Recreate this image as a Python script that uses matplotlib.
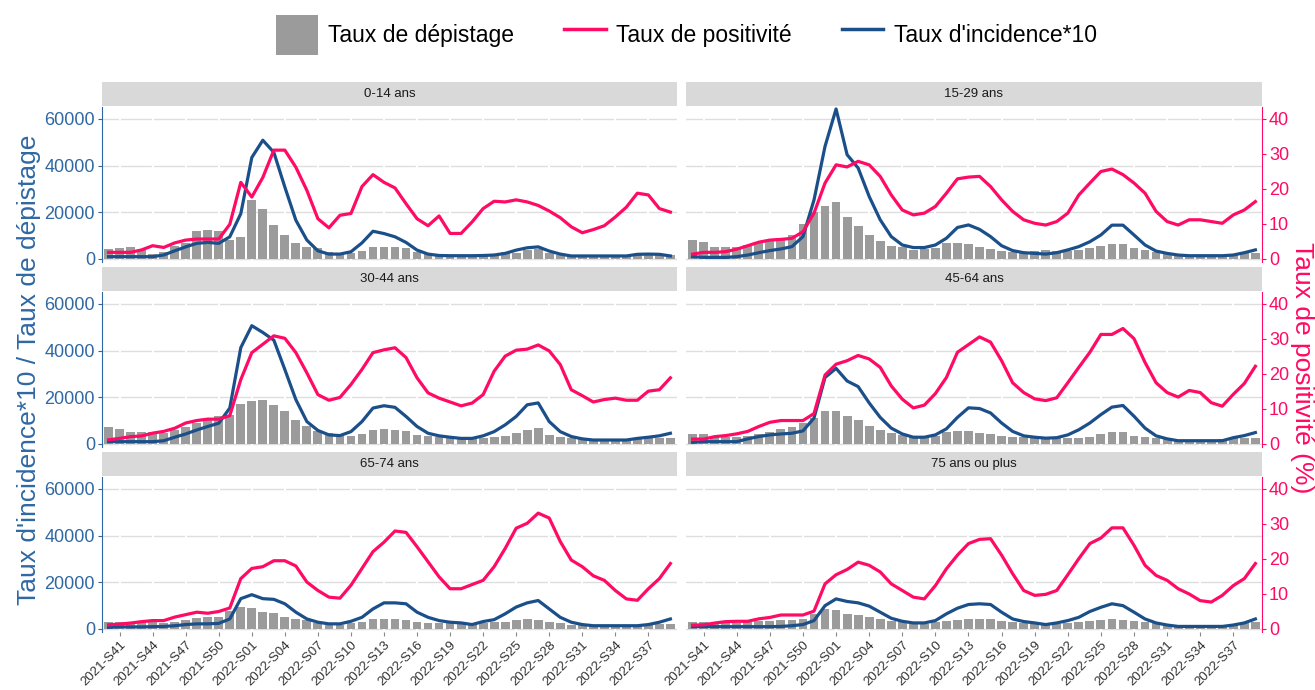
import matplotlib
matplotlib.use('Agg')
import matplotlib.pyplot as plt
from matplotlib.patches import Patch
from matplotlib.lines import Line2D
import numpy as np

plt.rcParams['font.family'] = ['Liberation Sans', 'DejaVu Sans']

# semaines 2021-S40 .. 2022-S39
weeks = ['2021-S%02d' % w for w in range(40, 53)] + ['2022-S%02d' % w for w in range(1, 40)]
tick_idx = list(range(1, len(weeks), 3))

age_groups = ['0-14 ans', '15-29 ans', '30-44 ans', '45-64 ans', '65-74 ans', '75 ans ou plus']

# taux de depistage
dep_0_14 = [4100, 4500, 5000, 3800, 2100, 3100, 5500, 6700, 11900, 12500, 12000, 8000, 9500, 25400, 21600, 14500,
            10100, 7000, 5200, 4500, 3100, 2400, 2400, 3500, 5200, 5200, 5200, 4500, 3100, 2100, 1700, 1700, 1400,
            1400, 1700, 2100, 3100, 2700, 3800, 4100, 2400, 1700, 1400, 1300, 1300, 1300, 1400, 1400, 1700, 2100,
            2100, 1700]
dep_15_29 = [8200, 7200, 5300, 5300, 5300, 6000, 6700, 7900, 8900, 10300, 14900, 20300, 22500, 24600, 17900, 14300,
             10300, 7900, 5700, 5300, 3900, 4200, 4600, 6700, 6700, 6400, 5300, 4300, 3600, 3200, 3200, 3600, 3900,
             3600, 3600, 3900, 4600, 5700, 6300, 6300, 4900, 3900, 3200, 2400, 1700, 1400, 1400, 1400, 1700, 2100,
             2400, 2400]
dep_30_44 = [7100, 6500, 5000, 5000, 5000, 4600, 5800, 7200, 8900, 10400, 11800, 12500, 17100, 18600, 19000, 16500,
             14000, 10100, 7500, 5600, 4600, 3900, 3500, 4300, 6000, 6500, 6000, 5600, 3900, 3500, 2900, 2400, 2400,
             2400, 2700, 2900, 3500, 4600, 6000, 6800, 3900, 2900, 2400, 2200, 2200, 2200, 2200, 2200, 2400, 2400,
             2400, 2700]
dep_45_64 = [4300, 4300, 3200, 3200, 3200, 3600, 4200, 5100, 6500, 7100, 9000, 11100, 14300, 14300, 11900, 10100,
             7500, 5800, 4600, 3900, 3200, 3500, 3600, 5100, 5600, 5400, 4900, 4300, 3600, 3200, 3200, 2900, 2900,
             2900, 2700, 2700, 3200, 4300, 5100, 5100, 3600, 3200, 2500, 2200, 1900, 1900, 1900, 1900, 2200, 2500,
             2700, 2700]
dep_65_74 = [2900, 2900, 2900, 2900, 2900, 2600, 3200, 4000, 4600, 5000, 5000, 7500, 9400, 8900, 7200, 6800,
             5300, 4200, 3700, 2700, 1900, 1700, 2400, 3200, 4200, 4200, 4200, 3700, 3200, 2700, 2700, 2700, 2400,
             2400, 2700, 3200, 3200, 3700, 4200, 3700, 2900, 2400, 1900, 1700, 1600, 1600, 1600, 1600, 1600, 1900,
             2000, 2200]
dep_75 = [2900, 2900, 2600, 2600, 2600, 2900, 3300, 3600, 3900, 3900, 4300, 6500, 8600, 8200, 6500, 6000,
          5000, 4300, 3600, 2900, 2200, 2200, 2900, 3600, 3900, 4300, 4300, 4300, 3300, 2900, 2600, 2400, 2200,
          2200, 2600, 2900, 3300, 3900, 4300, 3900, 3300, 2900, 2400, 2200, 1900, 1900, 1900, 1900, 1900, 2200,
          2600, 2900]

# taux de positivite (%)
pos_0_14 = [1.9, 1.9, 1.9, 2.6, 3.8, 3.3, 4.6, 5.4, 5.7, 5.7, 5.7, 9.9, 21.9, 17.7, 23.3, 31.1, 31.1, 26.2, 19.6,
            11.5, 8.9, 12.5, 13.0, 20.7, 24.1, 21.9, 20.3, 15.8, 11.5, 9.5, 12.3, 7.3, 7.3, 10.6, 14.4, 16.5, 16.3,
            16.9, 16.3, 15.3, 13.7, 11.8, 9.2, 7.5, 8.4, 9.5, 12.0, 14.8, 18.8, 18.3, 14.4, 13.4]
pos_15_29 = [1.4, 1.9, 1.9, 2.1, 2.8, 3.8, 4.8, 5.4, 5.6, 5.9, 7.8, 13.1, 21.7, 26.9, 26.3, 27.9, 26.9, 23.6, 18.3,
             14.0, 12.6, 13.1, 15.0, 18.8, 22.9, 23.4, 23.6, 20.7, 16.9, 13.6, 11.2, 10.2, 9.7, 10.7, 13.1, 18.3,
             21.7, 25.0, 25.7, 24.1, 21.7, 18.8, 13.6, 10.7, 9.7, 11.2, 11.2, 10.7, 10.2, 12.6, 14.0, 16.4]
pos_30_44 = [1.2, 1.6, 2.1, 2.3, 3.1, 3.6, 4.5, 6.0, 6.7, 7.1, 7.1, 8.1, 18.4, 26.1, 28.5, 30.9, 30.2, 26.1, 20.3,
             14.1, 12.5, 13.3, 17.0, 21.3, 26.1, 26.9, 27.5, 24.7, 18.9, 14.6, 13.1, 12.0, 10.9, 11.7, 14.1, 20.8,
             25.1, 26.8, 27.1, 28.3, 26.6, 22.7, 15.5, 13.8, 12.0, 12.7, 13.1, 12.5, 12.5, 15.1, 15.5, 18.9]
pos_45_64 = [1.4, 1.4, 2.1, 2.4, 2.9, 3.6, 5.0, 6.2, 6.7, 6.7, 6.7, 8.7, 19.7, 22.8, 23.8, 25.3, 24.3, 21.9, 16.6,
             12.8, 10.3, 11.1, 14.4, 19.0, 26.2, 28.4, 30.6, 29.1, 23.8, 17.5, 14.7, 12.9, 12.4, 13.2, 17.5, 21.9,
             26.2, 31.3, 31.3, 33.0, 30.1, 23.3, 17.5, 14.7, 13.4, 15.3, 14.7, 11.8, 10.8, 14.2, 17.3, 22.2]
pos_65_74 = [1.2, 1.4, 1.7, 2.1, 2.4, 2.4, 3.4, 4.1, 4.8, 4.5, 5.0, 6.0, 14.4, 17.3, 17.8, 19.5, 19.5, 18.0, 13.4,
             11.0, 9.1, 8.8, 12.5, 17.3, 22.1, 24.8, 28.0, 27.6, 23.5, 19.2, 14.9, 11.5, 11.5, 12.7, 13.9, 17.8,
             23.0, 28.8, 30.2, 33.1, 31.7, 25.0, 19.7, 17.8, 15.2, 13.9, 11.0, 8.6, 8.2, 11.5, 14.4, 18.7]
pos_75 = [1.1, 1.2, 1.7, 2.1, 2.2, 2.2, 2.9, 3.3, 4.0, 4.0, 4.0, 5.1, 12.9, 15.5, 17.0, 19.1, 18.2, 16.3, 12.9,
          11.0, 9.1, 8.6, 12.4, 17.2, 21.1, 24.4, 25.6, 25.8, 21.1, 15.8, 11.0, 9.6, 9.9, 11.0, 15.5, 20.1,
          24.4, 26.0, 28.9, 28.9, 23.9, 18.2, 15.3, 13.9, 11.5, 10.0, 8.1, 7.7, 9.6, 12.4, 14.4, 18.7]

# taux d'incidence * 10
inc_0_14 = [1000, 1000, 1000, 1000, 1000, 1700, 3500, 5200, 6700, 7100, 6700, 9500, 19400, 43500, 50900, 45700,
            30800, 16600, 8100, 3500, 2100, 2100, 3100, 6900, 11900, 10900, 9500, 7100, 3800, 2100, 1500, 1400,
            1400, 1400, 1500, 1700, 2400, 3800, 4800, 5200, 3400, 2100, 1300, 1300, 1300, 1300, 1300, 1300, 2000,
            2100, 2000, 1300]
inc_15_29 = [1000, 700, 700, 700, 1000, 1700, 2700, 3600, 4300, 5300, 9600, 25300, 48300, 64300, 44700, 39000,
             26800, 16800, 9600, 6000, 4900, 4900, 6000, 8900, 13500, 14600, 12700, 9600, 5700, 3600, 2700, 2400,
             2100, 2700, 3900, 5300, 7400, 10300, 14500, 14500, 10300, 6000, 3400, 2400, 1700, 1400, 1400, 1400,
             1400, 1700, 2700, 3900]
inc_30_44 = [1000, 1000, 1000, 1000, 1000, 1400, 2900, 4300, 6000, 7500, 8900, 15400, 41300, 50700, 47800, 44500,
             31900, 19000, 9600, 5800, 3900, 3600, 5300, 9600, 15400, 16400, 15700, 11800, 7500, 4600, 3500, 2900,
             2400, 2400, 3500, 5300, 8200, 11800, 16800, 17600, 9600, 5300, 3200, 2200, 1700, 1700, 1700, 1700,
             2400, 2900, 3500, 4600]
inc_45_64 = [700, 1000, 1000, 1000, 1000, 2200, 3200, 3900, 4300, 4600, 5600, 11100, 28500, 32400, 27000, 24600,
             17600, 11400, 6800, 4300, 2900, 2900, 3900, 6500, 11400, 15500, 15200, 13300, 9000, 5400, 3500, 2900,
             2500, 2700, 3900, 6100, 9000, 12600, 15800, 16500, 11900, 6800, 3500, 2200, 1400, 1400, 1400, 1400,
             1400, 2700, 3600, 4900]
inc_65_74 = [700, 900, 900, 900, 1000, 1100, 1400, 1900, 2200, 2200, 2400, 4300, 13000, 14700, 13000, 12700,
             10800, 7200, 4300, 2900, 2200, 2200, 3300, 5000, 8600, 11200, 11200, 10800, 7200, 5000, 3600, 2900,
             2600, 1900, 3200, 4000, 6500, 9400, 11200, 12200, 8600, 5000, 2900, 1900, 1400, 1400, 1400, 1400,
             1400, 1900, 2900, 4300]
inc_75 = [1000, 1000, 1000, 1000, 1000, 1000, 1000, 1000, 1100, 1400, 1900, 3600, 10000, 12900, 11800, 11200,
          9800, 7200, 4600, 3300, 2600, 2600, 3600, 6500, 8900, 10500, 10800, 10500, 7200, 4300, 3200, 2600,
          1900, 2600, 3600, 5000, 7500, 9300, 10800, 10000, 7200, 4300, 2600, 1700, 1100, 1100, 1100, 1100,
          1100, 1700, 2600, 4300]

depistage = [dep_0_14, dep_15_29, dep_30_44, dep_45_64, dep_65_74, dep_75]
positivite = [pos_0_14, pos_15_29, pos_30_44, pos_45_64, pos_65_74, pos_75]
incidence = [inc_0_14, inc_15_29, inc_30_44, inc_45_64, inc_65_74, inc_75]

col_bar = '#9B9B9B'
col_pos = '#FF0A64'
col_inc = '#1B4F8A'
col_left = '#2F68A3'
scale = 1500.0
ylo, yhi = -1290, 65140

figw, figh = 1315, 690
fig = plt.figure(figsize=(figw / 100, figh / 100), dpi=100, facecolor='white')

col_x = [(102, 677), (686, 1262)]
row_y = [(107, 262), (292, 447), (477, 632)]
strip_h = 24

x = np.arange(len(weeks))
for k, grp in enumerate(age_groups):
    r, c = divmod(k, 2)
    x0, x1 = col_x[c]
    y0, y1 = row_y[r]
    ax = fig.add_axes([x0 / figw, 1 - y1 / figh, (x1 - x0) / figw, (y1 - y0) / figh])
    ax2 = ax.twinx()
    ax.set_facecolor('white')
    ax.set_xlim(-0.6, len(weeks) - 0.4)
    ax.set_ylim(ylo, yhi)
    for yv in [0, 20000, 40000, 60000]:
        ax.axhline(yv, color='#DEDEDE', lw=1, zorder=0.3)
    for t in tick_idx:
        ax.axvline(t, color='white', lw=1.5, zorder=0.4)
    ax.bar(x, depistage[k], width=0.8, color=col_bar, zorder=1)
    ax.plot(x, incidence[k], color=col_inc, lw=2.3, zorder=3)
    for s in ['top', 'right', 'bottom']:
        ax.spines[s].set_visible(False)
    ax.set_yticks([0, 20000, 40000, 60000])
    if c == 0:
        ax.spines['left'].set_color(col_left)
        ax.tick_params(axis='y', colors=col_left, labelsize=13, length=3, pad=2)
    else:
        ax.spines['left'].set_visible(False)
        ax.tick_params(axis='y', left=False, labelleft=False, right=False, labelright=False)
    ax.set_xticks(tick_idx)
    if r == 2:
        ax.set_xticklabels([weeks[i] for i in tick_idx], rotation=45, ha='right', rotation_mode='anchor',
                           fontsize=9.5, color='#333333')
        ax.tick_params(axis='x', length=3, color='#888888', pad=2)
    else:
        ax.tick_params(axis='x', bottom=False, labelbottom=False)

    ax2.set_ylim(ylo / scale, yhi / scale)
    ax2.plot(x, positivite[k], color=col_pos, lw=2.3, zorder=3)
    for s in ['top', 'left', 'bottom']:
        ax2.spines[s].set_visible(False)
    ax2.set_yticks([0, 10, 20, 30, 40])
    if c == 1:
        ax2.spines['right'].set_color(col_pos)
        ax2.tick_params(axis='y', colors=col_pos, labelsize=13, length=3, pad=2, left=False)
    else:
        ax2.spines['right'].set_visible(False)
        ax2.tick_params(axis='y', right=False, labelright=False, left=False, labelleft=False)

    sax = fig.add_axes([x0 / figw, 1 - (y0 - 1) / figh, (x1 - x0) / figw, strip_h / figh])
    sax.set_facecolor('#D9D9D9')
    sax.set_xticks([])
    sax.set_yticks([])
    for s in sax.spines.values():
        s.set_visible(False)
    sax.text(0.5, 0.5, grp, ha='center', va='center', fontsize=9.5, color='#1A1A1A', transform=sax.transAxes)

fig.text(0.022, 0.464, "Taux d'incidence*10 / Taux de dépistage", rotation=90, ha='center', va='center',
         fontsize=19, color=col_left)
fig.text(0.99, 0.467, 'Taux de positivité (%)', rotation=270, ha='center', va='center',
         fontsize=19, color=col_pos)

handles = [Patch(facecolor=col_bar, edgecolor='none'),
           Line2D([0], [0], color=col_pos, lw=2.5),
           Line2D([0], [0], color=col_inc, lw=2.5)]
labels = ['Taux de dépistage', 'Taux de positivité', "Taux d'incidence*10"]
fig.legend(handles, labels, loc='center', bbox_to_anchor=(0.522, 0.949), ncol=3, frameon=False,
           fontsize=16.5, handlelength=1.8, handleheight=2.3, handletextpad=0.45, columnspacing=2.2)

fig.savefig('out.png', dpi=100, facecolor='white')
